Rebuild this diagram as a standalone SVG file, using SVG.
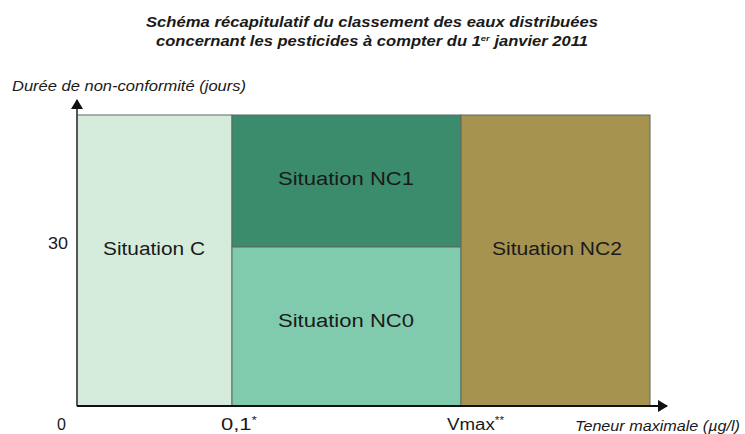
<svg xmlns="http://www.w3.org/2000/svg" width="745" height="434" viewBox="0 0 745 434">
<style>
text{font-family:"Liberation Sans",Arial,sans-serif;fill:#1a1a1a}
.t{font-size:14px;font-style:italic;font-weight:bold;text-anchor:middle}
.ax{font-size:14px;font-style:italic}
.lab{font-size:18px;text-anchor:middle}
.tick{font-size:16px}
.zone{stroke:#5a6a60;stroke-width:1}
</style>
<defs>
<marker id="arr" markerWidth="10" markerHeight="12" refX="9" refY="6" orient="auto" markerUnits="userSpaceOnUse"><path d="M0,0 L10,6 L0,12 z" fill="#111"/></marker>
</defs>
<rect width="745" height="434" fill="#fff"/>
<text class="t" x="372" y="27" textLength="452" lengthAdjust="spacingAndGlyphs">Schéma récapitulatif du classement des eaux distribuées</text>
<text class="t" x="372" y="46" textLength="432" lengthAdjust="spacingAndGlyphs">concernant les pesticides à compter du 1<tspan font-size="8" dy="-5">er</tspan><tspan dy="5"> janvier 2011</tspan></text>
<text class="ax" x="12" y="91" textLength="234" lengthAdjust="spacingAndGlyphs">Durée de non-conformité (jours)</text>
<g id="zoneC"><rect class="zone" x="77" y="115" width="155" height="291" fill="#d5ecdc"/><text class="lab" x="154" y="255" textLength="102" lengthAdjust="spacingAndGlyphs">Situation C</text></g>
<g id="zoneNC1"><rect class="zone" x="232" y="115" width="229" height="132" fill="#3a8c6c"/><text class="lab" x="346" y="185" textLength="136" lengthAdjust="spacingAndGlyphs">Situation NC1</text></g>
<g id="zoneNC0"><rect class="zone" x="232" y="247" width="229" height="159" fill="#80cbad"/><text class="lab" x="346" y="327" textLength="136" lengthAdjust="spacingAndGlyphs">Situation NC0</text></g>
<g id="zoneNC2"><rect class="zone" x="461" y="115" width="189" height="291" fill="#a6934f"/><text class="lab" x="557" y="255" textLength="130" lengthAdjust="spacingAndGlyphs">Situation NC2</text></g>
<g id="connectors">
<line x1="77" y1="406" x2="77" y2="100" stroke="#555" stroke-width="2" marker-end="url(#arr)"/>
<line x1="77" y1="406" x2="667" y2="406" stroke="#111" stroke-width="2" marker-end="url(#arr)"/>
</g>
<text class="tick" x="48" y="249" textLength="20" lengthAdjust="spacingAndGlyphs">30</text>
<text class="tick" x="57" y="430">0</text>
<text class="tick" x="221" y="430" textLength="36" lengthAdjust="spacingAndGlyphs">0,1<tspan font-size="10" dy="-6">*</tspan></text>
<text class="tick" x="447" y="430" textLength="57" lengthAdjust="spacingAndGlyphs">Vmax<tspan font-size="10" dy="-6">**</tspan></text>
<text class="ax" x="575" y="431" textLength="165" lengthAdjust="spacingAndGlyphs">Teneur maximale (µg/l)</text>
</svg>
